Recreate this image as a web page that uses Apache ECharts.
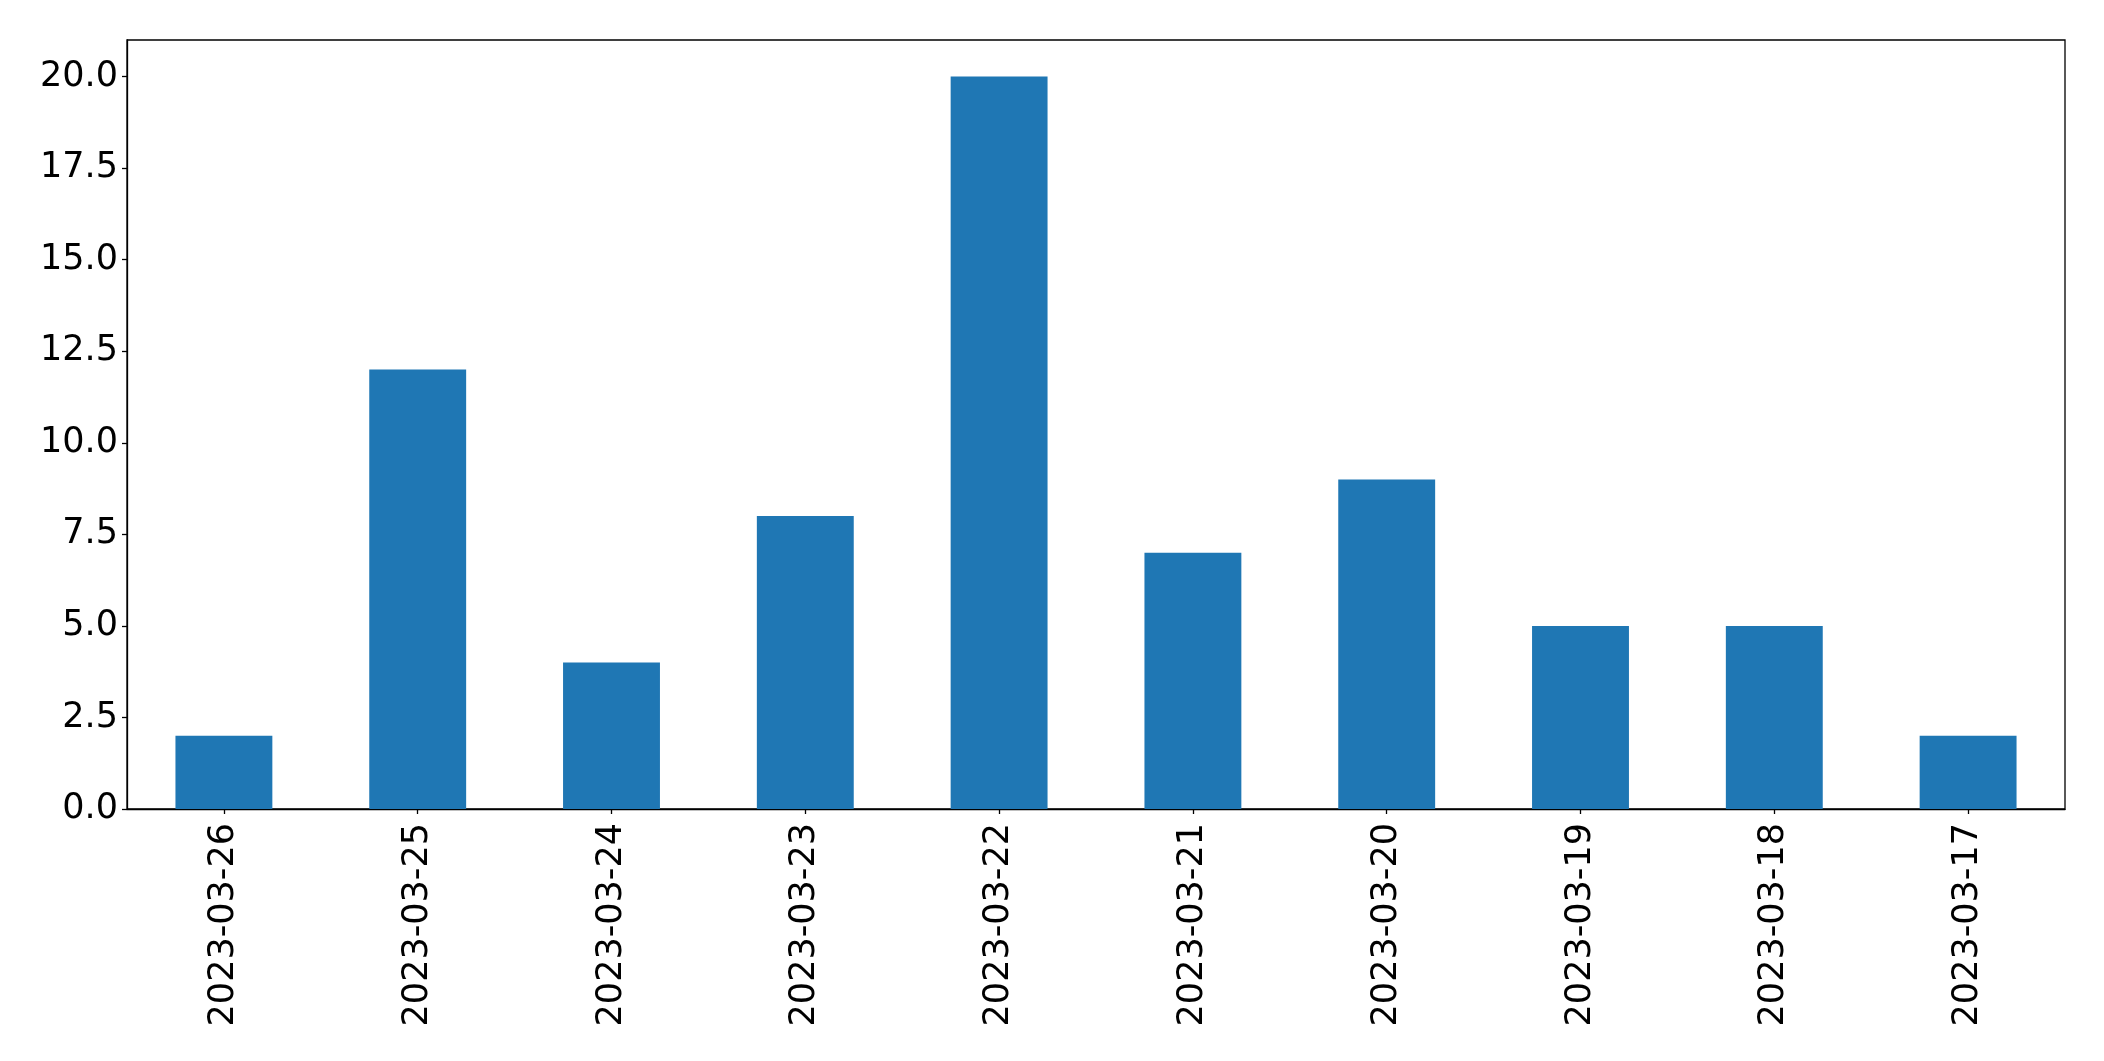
<!DOCTYPE html>
<html>
<head>
<meta charset="utf-8">
<script src="https://cdn.jsdelivr.net/npm/echarts@6/dist/echarts.min.js"></script>
<style>html,body{margin:0;padding:0;background:#fff;}#c{width:2104px;height:1061px;}</style>
</head>
<body>
<div id="c"></div>
<script>
const categories = ['2023-03-26','2023-03-25','2023-03-24','2023-03-23','2023-03-22','2023-03-21','2023-03-20','2023-03-19','2023-03-18','2023-03-17'];
const values = [2, 12, 4, 8, 20, 7, 9, 5, 5, 2];
const yTicks = [0, 2.5, 5, 7.5, 10, 12.5, 15, 17.5, 20];
const yMax = 21;

const chart = echarts.init(document.getElementById('c'), null, {renderer: 'canvas'});
chart.setOption({
  animation: false,
  backgroundColor: '#ffffff',
  grid: {left: 127, right: 39, top: 40, bottom: 252, show: true, borderColor: '#000', borderWidth: 1.3, backgroundColor: 'transparent'},
  xAxis: {
    type: 'category',
    data: categories,
    boundaryGap: true,
    axisLine: {show: true, lineStyle: {color: '#000', width: 1.3}},
    axisTick: {show: true, alignWithLabel: true, length: 5, lineStyle: {color: '#000', width: 1.3}},
    axisLabel: {rotate: 90, margin: 14, fontSize: 35, color: '#000', fontFamily: 'DejaVu Sans', interval: 0},
    splitLine: {show: false}
  },
  yAxis: {
    type: 'value',
    min: 0,
    max: yMax,
    axisLine: {show: true, lineStyle: {color: '#000', width: 1.3}},
    axisTick: {show: true, length: 5, customValues: yTicks, lineStyle: {color: '#000', width: 1.3}},
    axisLabel: {customValues: yTicks, margin: 9, fontSize: 35, color: '#000', fontFamily: 'DejaVu Sans', formatter: v => v.toFixed(1)},
    splitLine: {show: false}
  },
  series: [{
    type: 'bar',
    data: values,
    barWidth: '50%',
    itemStyle: {color: '#1f77b4'}
  }]
});
</script>
</body>
</html>
